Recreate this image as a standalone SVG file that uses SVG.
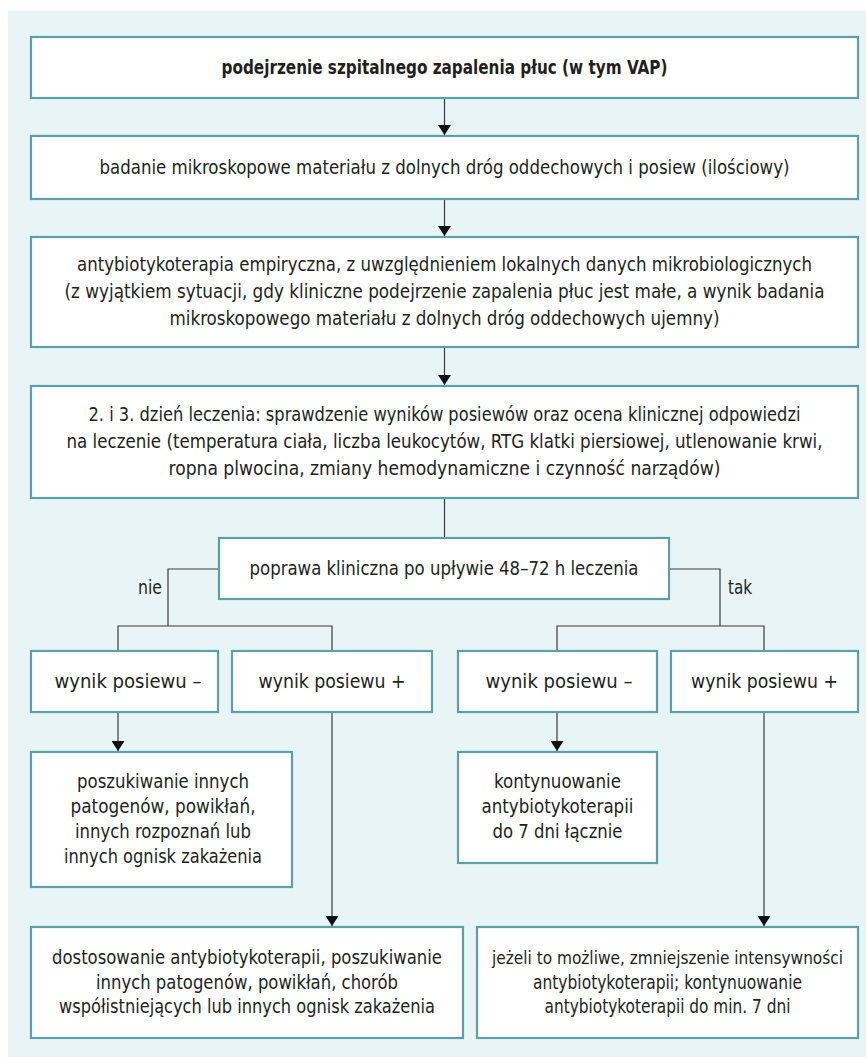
<svg xmlns="http://www.w3.org/2000/svg" width="866" height="1057" viewBox="0 0 866 1057">
<defs>
<style>
.box{fill:#ffffff;stroke:#5c9fa4;stroke-width:2.2}
.t{font-family:"DejaVu Sans Condensed","Liberation Sans Narrow","Liberation Sans",sans-serif;font-size:19px;fill:#231f20;text-anchor:middle}
.b{font-weight:bold}
.lbl{text-anchor:start}
.sm{font-size:17.5px}
.ln{fill:none;stroke:#3a3a3a;stroke-width:1.2}
</style>
<marker id="ah" viewBox="0 0 10 13" refX="10" refY="6.5" markerWidth="10" markerHeight="13" markerUnits="userSpaceOnUse" orient="auto">
<path d="M0,0 L10,6.5 L0,13 Z" fill="#111"/>
</marker>
</defs>
<rect x="8" y="11" width="858" height="1046" fill="#e8f4f5"/>
<g id="connectors">
<line class="ln" x1="444.5" y1="98" x2="444.5" y2="135" marker-end="url(#ah)"/>
<line class="ln" x1="444.5" y1="199" x2="444.5" y2="236" marker-end="url(#ah)"/>
<line class="ln" x1="444.5" y1="347" x2="444.5" y2="385" marker-end="url(#ah)"/>
<line class="ln" x1="444.5" y1="498" x2="444.5" y2="538"/>
<polyline class="ln" points="219,569 168,569 168,626"/>
<polyline class="ln" points="118,651 118,626 332,626 332,651"/>
<polyline class="ln" points="669,569 720,569 720,626"/>
<polyline class="ln" points="557,651 557,626 764,626 764,651"/>
<line class="ln" x1="118" y1="712" x2="118" y2="751" marker-end="url(#ah)"/>
<line class="ln" x1="332" y1="712" x2="332" y2="926" marker-end="url(#ah)"/>
<line class="ln" x1="557" y1="712" x2="557" y2="751" marker-end="url(#ah)"/>
<line class="ln" x1="764" y1="712" x2="764" y2="926" marker-end="url(#ah)"/>
<text class="t lbl" x="138" y="594" textLength="24" lengthAdjust="spacingAndGlyphs">nie</text>
<text class="t lbl" x="728" y="594" textLength="24" lengthAdjust="spacingAndGlyphs">tak</text>
</g>
<g id="n1">
<rect class="box" x="31" y="37" width="827" height="61"/>
<text class="t b" x="444.5" y="74" textLength="446" lengthAdjust="spacingAndGlyphs">podejrzenie szpitalnego zapalenia płuc (w tym VAP)</text>
</g>
<g id="n2">
<rect class="box" x="31" y="136" width="827" height="63"/>
<text class="t" x="444.5" y="174" textLength="690" lengthAdjust="spacingAndGlyphs">badanie mikroskopowe materiału z dolnych dróg oddechowych i posiew (ilościowy)</text>
</g>
<g id="n3">
<rect class="box" x="31" y="237" width="827" height="110"/>
<text class="t" x="444.5" y="271" textLength="735" lengthAdjust="spacingAndGlyphs">antybiotykoterapia empiryczna, z uwzględnieniem lokalnych danych mikrobiologicznych</text>
<text class="t" x="444.5" y="298" textLength="760" lengthAdjust="spacingAndGlyphs">(z wyjątkiem sytuacji, gdy kliniczne podejrzenie zapalenia płuc jest małe, a wynik badania</text>
<text class="t" x="444.5" y="325" textLength="550" lengthAdjust="spacingAndGlyphs">mikroskopowego materiału z dolnych dróg oddechowych ujemny)</text>
</g>
<g id="n4">
<rect class="box" x="31" y="386" width="827" height="112"/>
<text class="t" x="444.5" y="421" textLength="712" lengthAdjust="spacingAndGlyphs">2. i 3. dzień leczenia: sprawdzenie wyników posiewów oraz ocena klinicznej odpowiedzi</text>
<text class="t" x="444.5" y="448" textLength="756" lengthAdjust="spacingAndGlyphs">na leczenie (temperatura ciała, liczba leukocytów, RTG klatki piersiowej, utlenowanie krwi,</text>
<text class="t" x="444.5" y="475" textLength="552" lengthAdjust="spacingAndGlyphs">ropna plwocina, zmiany hemodynamiczne i czynność narządów)</text>
</g>
<g id="n5">
<rect class="box" x="219" y="538" width="450" height="61"/>
<text class="t" x="444" y="575" textLength="389" lengthAdjust="spacingAndGlyphs">poprawa kliniczna po upływie 48–72 h leczenia</text>
</g>
<g id="n6">
<rect class="box" x="31" y="651" width="187" height="61"/>
<text class="t" x="128" y="688" textLength="147" lengthAdjust="spacingAndGlyphs">wynik posiewu –</text>
</g>
<g id="n7">
<rect class="box" x="232" y="651" width="200" height="61"/>
<text class="t" x="332" y="688" textLength="147" lengthAdjust="spacingAndGlyphs">wynik posiewu +</text>
</g>
<g id="n8">
<rect class="box" x="458" y="651" width="199" height="61"/>
<text class="t" x="559" y="688" textLength="147" lengthAdjust="spacingAndGlyphs">wynik posiewu –</text>
</g>
<g id="n9">
<rect class="box" x="671" y="651" width="187" height="61"/>
<text class="t" x="764.5" y="688" textLength="147" lengthAdjust="spacingAndGlyphs">wynik posiewu +</text>
</g>
<g id="n10">
<rect class="box" x="31" y="752" width="261" height="135"/>
<text class="t" x="163" y="788" textLength="172" lengthAdjust="spacingAndGlyphs">poszukiwanie innych</text>
<text class="t" x="163" y="813" textLength="185" lengthAdjust="spacingAndGlyphs">patogenów, powikłań,</text>
<text class="t" x="163" y="838" textLength="176" lengthAdjust="spacingAndGlyphs">innych rozpoznań lub</text>
<text class="t" x="163" y="863" textLength="198" lengthAdjust="spacingAndGlyphs">innych ognisk zakażenia</text>
</g>
<g id="n11">
<rect class="box" x="458" y="752" width="199" height="111"/>
<text class="t" x="557.5" y="788" textLength="127" lengthAdjust="spacingAndGlyphs">kontynuowanie</text>
<text class="t" x="557.5" y="813" textLength="152" lengthAdjust="spacingAndGlyphs">antybiotykoterapii</text>
<text class="t" x="557.5" y="838" textLength="130" lengthAdjust="spacingAndGlyphs">do 7 dni łącznie</text>
</g>
<g id="n12">
<rect class="box" x="31" y="927" width="432" height="111"/>
<text class="t" x="247" y="964" textLength="390" lengthAdjust="spacingAndGlyphs">dostosowanie antybiotykoterapii, poszukiwanie</text>
<text class="t" x="247" y="989" textLength="302" lengthAdjust="spacingAndGlyphs">innych patogenów, powikłań, chorób</text>
<text class="t" x="247" y="1013" textLength="376" lengthAdjust="spacingAndGlyphs">współistniejących lub innych ognisk zakażenia</text>
</g>
<g id="n13">
<rect class="box" x="477" y="927" width="381" height="111"/>
<text class="t sm" x="667.5" y="964" textLength="351" lengthAdjust="spacingAndGlyphs">jeżeli to możliwe, zmniejszenie intensywności</text>
<text class="t" x="667.5" y="989" textLength="269" lengthAdjust="spacingAndGlyphs">antybiotykoterapii; kontynuowanie</text>
<text class="t" x="667.5" y="1013" textLength="246" lengthAdjust="spacingAndGlyphs">antybiotykoterapii do min. 7 dni</text>
</g>
</svg>
